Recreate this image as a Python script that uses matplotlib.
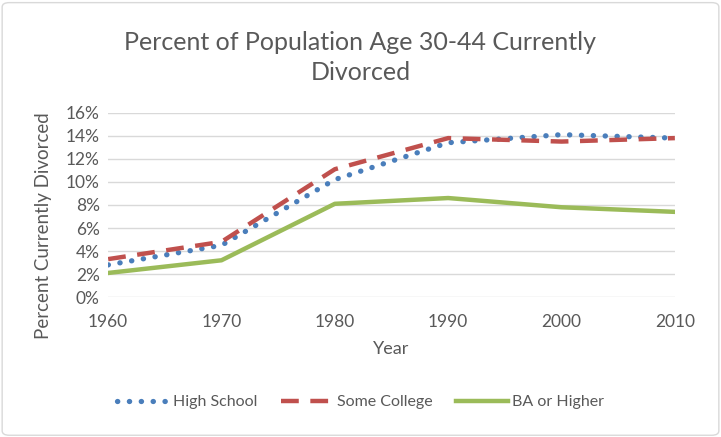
import matplotlib
matplotlib.use("Agg")
import matplotlib.pyplot as plt
from matplotlib.patches import FancyBboxPatch
from matplotlib.ticker import PercentFormatter

years = [1960, 1970, 1980, 1990, 2000, 2010]
high_school = [2.8, 4.5, 10.2, 13.4, 14.1, 13.8]
some_college = [3.3, 4.8, 11.1, 13.8, 13.5, 13.8]
ba_or_higher = [2.1, 3.2, 8.1, 8.6, 7.8, 7.4]

gris = "#595959"
plt.rcParams['font.family'] = ['Lato', 'DejaVu Sans']

fig = plt.figure(figsize=(7.21, 4.37), dpi=100)
ax = fig.add_axes([0.150, 0.320, 0.786, 0.422])

# borde del grafico
fig.patches.append(FancyBboxPatch((0.003, 0.004), 0.994, 0.99, boxstyle="round,pad=0,rounding_size=0.01",
                                  transform=fig.transFigure, fc="none", ec="#d9d9d9", lw=1))

ax.plot(years, high_school, color="#4a7ebb", lw=3.8, linestyle=(0, (0.05, 2.2)),
        dash_capstyle="round", label="High School", zorder=3)
ax.plot(years, some_college, color="#c0504d", lw=3.2, linestyle=(0, (4, 2.6)),
        label="Some College", zorder=3)
ax.plot(years, ba_or_higher, color="#9bbb59", lw=3.2, label="BA or Higher", zorder=3)

ax.set_xlim(1960, 2010)
ax.set_ylim(0, 16)
ax.set_yticks(range(0, 17, 2))
ax.set_xticks(years)
ax.yaxis.set_major_formatter(PercentFormatter(decimals=0))
ax.grid(axis="y", color="#d9d9d9", lw=1)
ax.set_axisbelow(True)
for s in ax.spines.values():
    s.set_visible(False)
ax.tick_params(length=0, labelsize=12.5, colors=gris, pad=6)
ax.tick_params(axis="x", pad=12)

ax.set_xlabel("Year", fontsize=13, color=gris, labelpad=8)
ax.set_ylabel("Percent Currently Divorced", fontsize=13.5, color=gris)
ax.yaxis.set_label_coords(-0.099, 0.386)

fig.text(0.5, 0.868, "Percent of Population Age 30-44 Currently\nDivorced", ha="center", va="center",
         fontsize=18, color=gris, linespacing=1.4)

fig.legend(loc="center", bbox_to_anchor=(0.5, 0.08), ncol=3, frameon=False, fontsize=11.5,
           labelcolor=gris, handlelength=3.2, handletextpad=0.3, columnspacing=1.5)

fig.savefig("out.png", dpi=100)
